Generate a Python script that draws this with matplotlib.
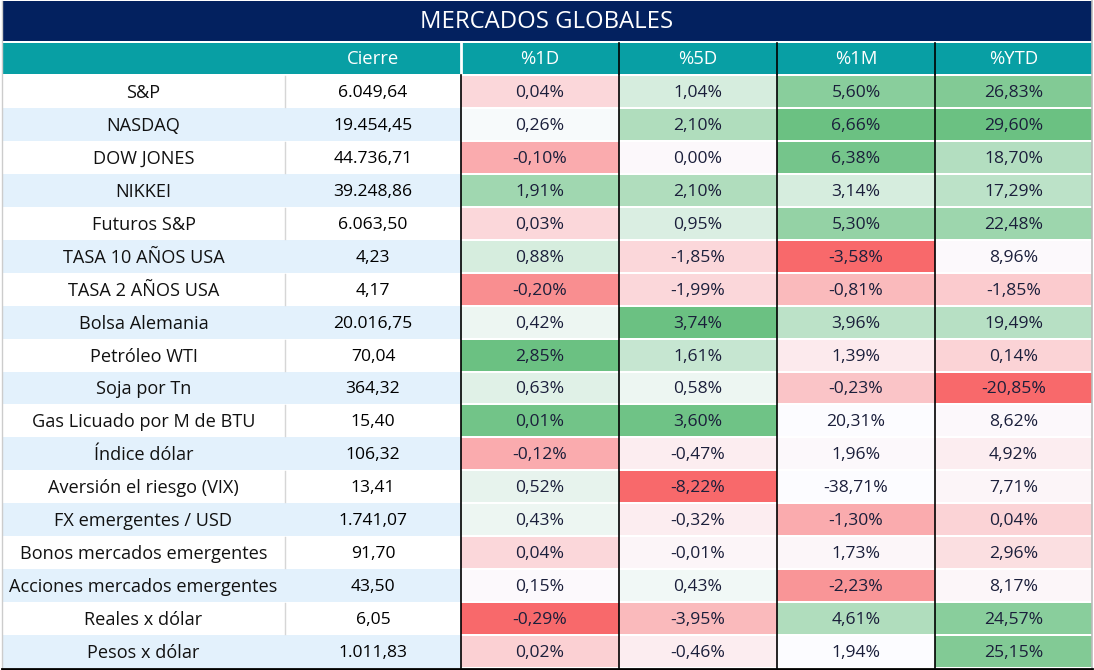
import matplotlib
matplotlib.use("Agg")
import matplotlib.pyplot as plt
from matplotlib.patches import Rectangle
import numpy as np

title = "MERCADOS GLOBALES"
headers = ["Cierre", "%1D", "%5D", "%1M", "%YTD"]
names = ["S&P", "NASDAQ", "DOW JONES", "NIKKEI", "Futuros S&P", "TASA 10 AÑOS USA",
         "TASA 2 AÑOS USA", "Bolsa Alemania", "Petróleo WTI", "Soja por Tn",
         "Gas Licuado por M de BTU", "Índice dólar", "Aversión el riesgo (VIX)",
         "FX emergentes / USD", "Bonos mercados emergentes", "Acciones mercados emergentes",
         "Reales x dólar", "Pesos x dólar"]
cierre = ["6.049,64", "19.454,45", "44.736,71", "39.248,86", "6.063,50", "4,23", "4,17",
          "20.016,75", "70,04", "364,32", "15,40", "106,32", "13,41", "1.741,07", "91,70",
          "43,50", "6,05", "1.011,83"]
pct_1d = [0.04, 0.26, -0.10, 1.91, 0.03, 0.88, -0.20, 0.42, 2.85, 0.63, 0.01, -0.12, 0.52,
          0.43, 0.04, 0.15, -0.29, 0.02]
pct_5d = [1.04, 2.10, 0.00, 2.10, 0.95, -1.85, -1.99, 3.74, 1.61, 0.58, 3.60, -0.47, -8.22,
          -0.32, -0.01, 0.43, -3.95, -0.46]
pct_1m = [5.60, 6.66, 6.38, 3.14, 5.30, -3.58, -0.81, 3.96, 1.39, -0.23, 20.31, 1.96, -38.71,
          -1.30, 1.73, -2.23, 4.61, 1.94]
pct_ytd = [26.83, 29.60, 18.70, 17.29, 22.48, 8.96, -1.85, 19.49, 0.14, -20.85, 8.62, 4.92,
           7.71, 0.04, 2.96, 8.17, 24.57, 25.15]
# color-scale intensity (-1 = red, 0 = white, +1 = green)
heat_1d = [-0.25, 0.03, -0.55, 0.6, -0.25, 0.25, -0.75, 0.1, 0.95, 0.18, 0.9, -0.55, 0.14,
           0.1, -0.25, -0.02, -1.0, -0.3]
heat_5d = [0.25, 0.5, -0.03, 0.5, 0.22, -0.25, -0.25, 0.95, 0.35, 0.1, 0.92, -0.1, -1.0,
           -0.1, -0.05, 0.07, -0.45, -0.1]
heat_1m = [0.75, 0.95, 0.88, 0.25, 0.68, -1.0, -0.45, 0.42, -0.12, -0.38, 0.0, -0.03, 0.0,
           -0.55, -0.04, -0.7, 0.5, 0.0]
heat_ytd = [0.8, 0.95, 0.48, 0.42, 0.62, -0.02, -0.33, 0.45, -0.28, -1.0, -0.03, -0.1, -0.05,
            -0.28, -0.2, -0.04, 0.75, 0.8]

pcts = [pct_1d, pct_5d, pct_1m, pct_ytd]
heats = [heat_1d, heat_5d, heat_1m, heat_ytd]

WHITE = np.array([252, 252, 255]) / 255
RED = np.array([248, 105, 107]) / 255
GREEN = np.array([99, 190, 123]) / 255

def heat_color(t):
    if t >= 0:
        return tuple(WHITE + (GREEN - WHITE) * t)
    return tuple(WHITE + (RED - WHITE) * (-t))

def fmt(v):
    return f"{v:.2f}".replace(".", ",") + "%"

W, H = 1094, 670
fig = plt.figure(figsize=(W / 100, H / 100), dpi=100)
ax = fig.add_axes([0, 0, 1, 1])
ax.set_xlim(0, W)
ax.set_ylim(H, 0)
ax.axis("off")

NAME_FONT = "Open Sans"
NUM_FONT = "Open Sans"
PCT_FONT = "Open Sans"
col_edges = [2, 285, 461, 619, 777, 935, 1092]
title_top, title_bot = 1, 41
head_top, head_bot = 43, 74
row_top = 75
row_h = (668 - row_top) / len(names)
TXT_DY = 1.5

# title
ax.add_patch(Rectangle((col_edges[0], title_top), col_edges[-1] - col_edges[0],
                       title_bot - title_top, color="#03215F", lw=0))
ax.text((col_edges[0] + col_edges[-1]) / 2, (title_top + title_bot) / 2 + 0.5, title,
        color="white", fontsize=17.2, family=NAME_FONT, ha="center", va="center")

# header
ax.add_patch(Rectangle((col_edges[0], head_top), col_edges[-1] - col_edges[0],
                       head_bot - head_top, color="#089FA4", lw=0))
for i, h in enumerate(headers):
    x0, x1 = col_edges[i + 1], col_edges[i + 2]
    ax.text((x0 + x1) / 2, (head_top + head_bot) / 2 + 0.5, h, color="white",
            fontsize=13.3, family=NAME_FONT, ha="center", va="center")
ax.plot([col_edges[2], col_edges[2]], [head_top, head_bot], color="white", lw=2)
for x in col_edges[3:6]:
    ax.plot([x, x], [head_top, head_bot], color="black", lw=1.2)

# rows
for r, name in enumerate(names):
    y0 = row_top + r * row_h
    yc = y0 + row_h / 2 + TXT_DY
    bg = "#E3F1FC" if r % 2 == 1 else "white"
    ax.add_patch(Rectangle((col_edges[0], y0), col_edges[2] - col_edges[0], row_h,
                           color=bg, lw=0))
    if r % 2 == 0:
        ax.plot([col_edges[1], col_edges[1]], [y0 + 1, y0 + row_h - 1], color="#D6D6D6", lw=1)
    ax.text((col_edges[0] + col_edges[1]) / 2, yc, name, fontsize=13.1, family=NAME_FONT,
            color="#111111", ha="center", va="center")
    ax.text((col_edges[1] + col_edges[2]) / 2, yc, cierre[r], fontsize=12.6, family=NUM_FONT,
            color="#000000", ha="center", va="center", fontweight="medium")
    for c in range(4):
        x0, x1 = col_edges[c + 2], col_edges[c + 3]
        ax.add_patch(Rectangle((x0, y0 + 1), x1 - x0, row_h - 2,
                               color=heat_color(heats[c][r]), lw=0))
        ax.text((x0 + x1) / 2, yc, fmt(pcts[c][r]), fontsize=12.6, family=PCT_FONT,
                color="#1B1F3B", ha="center", va="center")

# grid lines on percentage area
for x in col_edges[2:6]:
    ax.plot([x, x], [row_top, 668], color="black", lw=1.2)
ax.plot([col_edges[-1], col_edges[-1]], [title_top, 668], color="#BBBBBB", lw=1.2)
ax.plot([col_edges[0], col_edges[0]], [title_top, 668], color="#CCCCCC", lw=1)
ax.plot([col_edges[0], col_edges[-1]], [668.5, 668.5], color="black", lw=2)

fig.savefig("out.png", dpi=100)
